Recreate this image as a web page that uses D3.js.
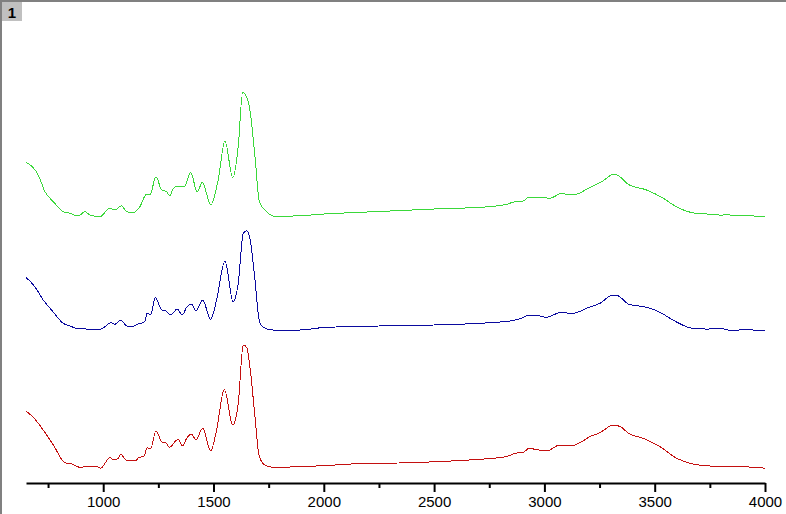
<!DOCTYPE html>
<html>
<head>
<meta charset="utf-8">
<script src="https://cdn.jsdelivr.net/npm/d3@7"></script>
<style>
  html, body { margin: 0; padding: 0; background: #fff; }
  svg { display: block; }
  text { font-family: Arial, "Liberation Sans", sans-serif; }
</style>
</head>
<body>
<svg id="chart" width="786" height="514"></svg>
<script>
// ---- data (wavenumber cm-1, offset absorbance) ----
const panelLabel = "1";
const majorTicks = [1000, 1500, 2000, 2500, 3000, 3500, 4000];
const minorTicks = [750, 1250, 1750, 2250, 2750, 3250, 3750];

const greenSeries = [
  [650,3.207],[707,3.073],[736,2.913],[774,2.813],[819,2.713],[849,2.697],[887,2.67],[917,2.713],
  [940,2.68],[985,2.663],[1030,2.747],[1053,2.73],[1083,2.773],[1106,2.713],[1136,2.703],[1166,2.763],
  [1197,2.89],[1212,2.88],[1239,3.063],[1265,2.93],[1287,2.913],[1302,2.87],[1318,2.947],[1340,2.97],
  [1370,2.97],[1396,3.107],[1426,2.913],[1450,3.007],[1487,2.78],[1521,3.03],[1552,3.42],[1587,3.053],
  [1612,3.363],[1632,3.903],[1650,3.863],[1665,3.73],[1688,3.263],[1708,2.813],[1741,2.713],[1771,2.67],
  [1862,2.67],[2000,2.69],[2250,2.715],[2500,2.74],[2708,2.757],[2783,2.77],[2829,2.787],[2866,2.813],
  [2904,2.82],[2927,2.857],[2980,2.857],[3025,2.847],[3078,2.897],[3116,2.88],[3146,2.887],[3191,2.937],
  [3267,3.023],[3313,3.087],[3330,3.08],[3380,2.987],[3463,2.93],[3539,2.847],[3592,2.77],[3652,2.713],
  [3690,2.697],[3720,2.70],[3745,2.685],[3765,2.687],[3800,2.678],[3830,2.685],[3856,2.672],[3885,2.68],
  [3917,2.677],[3950,2.67],[4000,2.67]
];

const blueSeries = [
  [650,2.057],[690,1.963],[728,1.83],[766,1.73],[819,1.597],[849,1.57],[887,1.543],[985,1.537],
  [1012,1.57],[1034,1.603],[1053,1.587],[1079,1.63],[1106,1.57],[1129,1.563],[1159,1.59],[1189,1.613],
  [1199,1.697],[1215,1.68],[1236,1.857],[1265,1.73],[1283,1.723],[1306,1.68],[1335,1.74],[1358,1.68],
  [1378,1.757],[1401,1.79],[1420,1.72],[1451,1.83],[1487,1.637],[1514,1.83],[1552,2.22],[1589,1.813],
  [1612,1.997],[1635,2.497],[1650,2.523],[1665,2.447],[1688,2.03],[1707,1.63],[1725,1.557],[1771,1.53],
  [1892,1.53],[2000,1.555],[2250,1.57],[2500,1.58],[2708,1.597],[2798,1.61],[2844,1.62],[2889,1.643],
  [2934,1.68],[2972,1.673],[3010,1.657],[3070,1.703],[3131,1.697],[3191,1.747],[3252,1.797],[3305,1.873],
  [3330,1.873],[3380,1.79],[3463,1.757],[3524,1.707],[3577,1.637],[3652,1.557],[3690,1.543],[3710,1.55],
  [3735,1.537],[3760,1.545],[3796,1.547],[3825,1.533],[3856,1.525],[3900,1.533],[3947,1.53],[4000,1.52]
];

const redSeries = [
  [650,0.72],[683,0.657],[728,0.53],[774,0.38],[826,0.203],[857,0.19],[894,0.157],[925,0.163],
  [970,0.163],[990,0.147],[1008,0.197],[1030,0.257],[1045,0.23],[1068,0.247],[1080,0.287],[1103,0.23],
  [1144,0.22],[1163,0.257],[1184,0.263],[1199,0.353],[1215,0.34],[1239,0.52],[1269,0.403],[1283,0.403],
  [1299,0.357],[1340,0.437],[1360,0.37],[1378,0.447],[1401,0.49],[1420,0.43],[1451,0.547],[1487,0.32],
  [1514,0.53],[1549,0.937],[1587,0.58],[1612,0.797],[1635,1.38],[1650,1.357],[1665,1.163],[1688,0.663],
  [1707,0.27],[1733,0.18],[1771,0.157],[1892,0.163],[2000,0.173],[2194,0.197],[2340,0.2],[2478,0.21],
  [2708,0.237],[2768,0.247],[2836,0.27],[2866,0.297],[2904,0.307],[2931,0.347],[2957,0.337],[3010,0.32],
  [3070,0.38],[3123,0.37],[3161,0.403],[3206,0.463],[3252,0.503],[3312,0.58],[3350,0.557],[3380,0.497],
  [3448,0.447],[3524,0.363],[3600,0.247],[3660,0.197],[3750,0.17],[3856,0.163],[3962,0.157],[4000,0.147]
];

const seriesList = [
  { data: greenSeries, color: "#3ad83a" },
  { data: blueSeries,  color: "#0a0a9e" },
  { data: redSeries,   color: "#c41010" }
];

// ---- drawing ----
const svg = d3.select("#chart");
const W = 786, H = 514;

const x = d3.scaleLinear().domain([650, 4000]).range([26, 765]);
const y = d3.scaleLinear().domain([0, 4.8]).range([483, 3]);

// frame (top and left borders)
svg.append("rect").attr("x", 0).attr("y", 0).attr("width", W).attr("height", 2).attr("fill", "#808080");
svg.append("rect").attr("x", 0).attr("y", 0).attr("width", 2).attr("height", H).attr("fill", "#808080");

// panel label box
svg.append("rect").attr("x", 2).attr("y", 2).attr("width", 20).attr("height", 19).attr("fill", "#c0c0c0");
svg.append("text").attr("x", 12).attr("y", 18).attr("text-anchor", "middle")
  .attr("font-size", 15).attr("font-weight", "bold").attr("fill", "#000").text(panelLabel);

// traces
const line = d3.line().x(d => x(d[0])).y(d => y(d[1])).curve(d3.curveMonotoneX);
seriesList.forEach(s => {
  svg.append("path").datum(s.data).attr("d", line)
    .attr("fill", "none").attr("stroke", s.color).attr("stroke-width", 1)
    .attr("shape-rendering", "crispEdges");
});

// x axis
const axisY = 483;
const gMinor = svg.append("g").attr("transform", `translate(0,${axisY})`)
  .call(d3.axisBottom(x).tickValues(minorTicks).tickSize(5).tickFormat(""));
gMinor.select(".domain").remove();
gMinor.selectAll(".tick line").attr("stroke", "#000").attr("stroke-width", 2);

const gMajor = svg.append("g").attr("transform", `translate(0,${axisY})`)
  .call(d3.axisBottom(x).tickValues(majorTicks).tickSize(9).tickSizeOuter(0).tickPadding(4).tickFormat(d3.format("d")));
gMajor.select(".domain").attr("stroke", "#000").attr("stroke-width", 2);
gMajor.selectAll(".tick line").attr("stroke", "#000").attr("stroke-width", 2);
gMajor.selectAll(".tick text").attr("font-size", 15).attr("fill", "#000")
  .attr("font-family", "Arial, 'Liberation Sans', sans-serif");
</script>
</body>
</html>
